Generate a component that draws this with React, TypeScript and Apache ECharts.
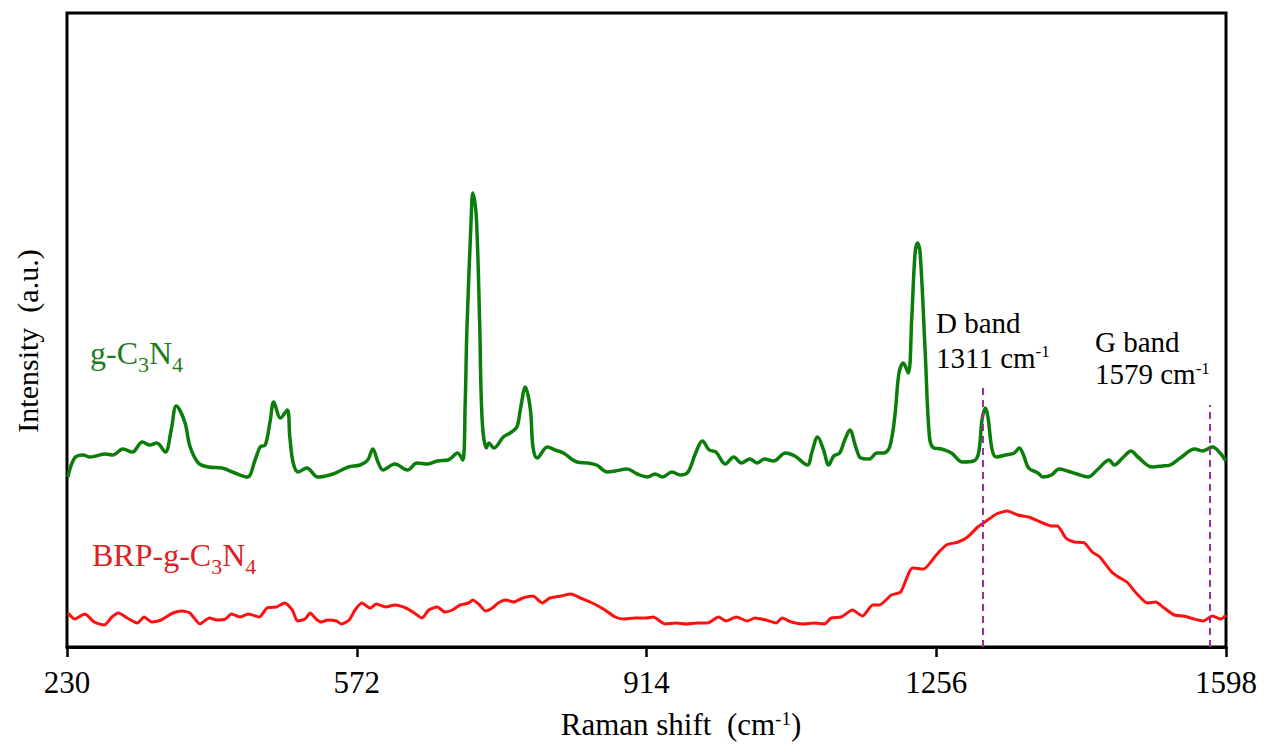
import React, { useEffect, useRef } from "react";
import * as echarts from "echarts";

const xTicks = [230, 572, 914, 1256, 1598];

// g-C3N4 spectrum: [Raman shift (cm-1), intensity (a.u.)]
const gC3N4: [number, number][] = [
  [231, 170], [239, 189], [249, 192], [257, 190], [264, 191], [275, 193], [284, 192], [296, 198],
  [307, 195], [319, 205], [328, 202], [336, 204], [346, 195], [353, 217], [359, 241], [369, 225],
  [375, 201], [385, 184], [397, 180], [413, 179], [428, 174], [443, 170], [452, 187], [458, 200],
  [464, 202], [470, 227], [474, 245], [482, 229], [490, 237], [493, 210], [497, 184], [503, 175],
  [513, 179], [526, 170], [544, 173], [562, 180], [576, 182], [585, 187], [591, 198], [597, 185],
  [603, 177], [617, 183], [632, 177], [643, 184], [656, 183], [667, 186], [680, 187], [691, 194],
  [697, 187], [700, 244], [702, 317], [707, 427], [709, 454], [713, 432], [717, 327], [720, 227],
  [725, 199], [728, 204], [734, 199], [745, 210], [753, 214], [761, 220], [765, 237], [771, 260],
  [777, 237], [780, 200], [785, 189], [797, 200], [806, 197], [816, 194], [832, 185], [845, 184],
  [855, 182], [868, 175], [877, 176], [891, 178], [903, 173], [915, 170], [924, 173], [933, 170],
  [944, 175], [954, 172], [963, 175], [972, 194], [980, 206], [988, 197], [996, 195], [1007, 183],
  [1017, 190], [1026, 184], [1036, 188], [1045, 184], [1053, 188], [1064, 186], [1078, 194], [1089, 191],
  [1104, 182], [1109, 194], [1116, 210], [1123, 197], [1129, 182], [1135, 191], [1142, 194], [1148, 207],
  [1154, 217], [1161, 200], [1167, 189], [1177, 188], [1186, 194], [1194, 194], [1201, 200], [1207, 230],
  [1212, 274], [1217, 284], [1223, 274], [1227, 327], [1231, 394], [1234, 404], [1237, 394], [1243, 294],
  [1248, 210], [1253, 199], [1262, 198], [1274, 194], [1287, 185], [1300, 186], [1306, 194], [1310, 227],
  [1314, 239], [1317, 230], [1322, 197], [1327, 190], [1338, 192], [1348, 194], [1354, 199], [1359, 192],
  [1365, 179], [1376, 174], [1382, 170], [1392, 172], [1401, 178], [1411, 176], [1422, 173], [1435, 170],
  [1447, 178], [1460, 187], [1466, 182], [1477, 190], [1486, 196], [1494, 190], [1511, 180], [1523, 181],
  [1532, 182], [1544, 189], [1561, 198], [1570, 196], [1582, 200], [1591, 194], [1598, 186],
];

// BRP-g-C3N4 spectrum
const brpC3N4: [number, number][] = [
  [231, 34], [239, 28], [251, 33], [262, 25], [274, 22], [283, 30], [291, 34], [301, 29],
  [313, 24], [321, 30], [330, 25], [341, 27], [355, 34], [366, 36], [375, 34], [387, 23],
  [398, 29], [407, 27], [417, 28], [424, 33], [434, 30], [444, 33], [457, 30], [466, 39],
  [477, 40], [487, 44], [496, 37], [502, 26], [511, 28], [517, 34], [524, 28], [530, 25],
  [538, 27], [548, 26], [554, 23], [563, 27], [570, 37], [578, 44], [588, 39], [595, 43],
  [606, 40], [617, 42], [630, 39], [640, 34], [649, 29], [657, 37], [667, 40], [676, 35],
  [685, 37], [694, 42], [704, 44], [709, 47], [717, 42], [724, 36], [732, 39], [739, 44],
  [748, 47], [757, 45], [768, 49], [780, 51], [791, 44], [800, 49], [813, 51], [825, 53],
  [836, 49], [850, 44], [863, 38], [877, 30], [887, 28], [900, 29], [914, 29], [922, 30],
  [936, 23], [949, 24], [961, 23], [974, 24], [986, 24], [999, 30], [1008, 26], [1020, 30],
  [1033, 26], [1042, 29], [1055, 27], [1067, 24], [1074, 29], [1085, 25], [1099, 23], [1112, 24],
  [1124, 23], [1132, 29], [1144, 30], [1157, 37], [1169, 31], [1181, 42], [1189, 42], [1203, 52],
  [1214, 55], [1228, 79], [1241, 78], [1257, 93], [1268, 102], [1282, 105], [1293, 110], [1305, 120],
  [1315, 126], [1327, 133], [1340, 136], [1352, 132], [1365, 130], [1379, 125], [1392, 121], [1399, 121],
  [1409, 109], [1419, 105], [1431, 104], [1440, 95], [1449, 90], [1463, 75], [1471, 70], [1481, 65],
  [1492, 54], [1505, 44], [1515, 45], [1525, 39], [1537, 32], [1548, 31], [1560, 28], [1571, 26],
  [1582, 31], [1592, 28], [1598, 32],
];

const bandShifts = [1311, 1579];
const bandLineTops = [260, 242];
const bandNames = ["D band", "G band"];

const SERIF = "'Liberation Serif', 'Times New Roman', serif";
const GREEN_LINE = "#0b7d0b";
const GREEN_TEXT = "#1e7b1e";
const RED_LINE = "#ff1010";
const RED_TEXT = "#e02020";
const PURPLE = "#9b309b";

export default function App() {
  const ref = useRef<HTMLDivElement>(null);

  useEffect(() => {
    const chart = echarts.init(ref.current!, null, { renderer: "svg" });

    // superscript style set
    const supRich = (color: string, size: number) => ({
      n: { fontSize: size, fontFamily: SERIF, fill: color, color, lineHeight: size },
      s: {
        fontSize: Math.round(size * 0.6),
        fontFamily: SERIF,
        fill: color,
        color,
        lineHeight: Math.round(size * 0.6),
        verticalAlign: "top",
      },
    });
    // subscript style set
    const subRich = (color: string, size: number) => ({
      n: { fontSize: size, fontFamily: SERIF, fill: color, color, lineHeight: Math.round(size * 1.4) },
      b: {
        fontSize: Math.round(size * 0.68),
        fontFamily: SERIF,
        fill: color,
        color,
        lineHeight: Math.round(size * 0.68),
        verticalAlign: "bottom",
      },
    });

    const annX = [936, 1095];
    const annY = [323, 342];
    const annGap = [34.5, 32];

    const graphic: any[] = [
      {
        type: "text",
        x: 27,
        y: 341,
        rotation: Math.PI / 2,
        style: { text: "Intensity  (a.u.)", font: `30px ${SERIF}`, fill: "#000", align: "center", verticalAlign: "middle" },
      },
      {
        type: "text",
        x: 681,
        y: 724,
        style: {
          text: "{n|Raman shift  (cm}{s|-1}{n|)}",
          rich: supRich("#000", 31),
          align: "center",
          verticalAlign: "middle",
        },
      },
      {
        type: "text",
        x: 90,
        y: 353,
        style: {
          text: "{n|g-C}{b|3}{n|N}{b|4}",
          rich: subRich(GREEN_TEXT, 32),
          fill: GREEN_TEXT,
          align: "left",
          verticalAlign: "middle",
        },
      },
      {
        type: "text",
        x: 92,
        y: 555,
        style: {
          text: "{n|BRP-g-C}{b|3}{n|N}{b|4}",
          rich: subRich(RED_TEXT, 32),
          fill: RED_TEXT,
          align: "left",
          verticalAlign: "middle",
        },
      },
    ];
    bandShifts.forEach((b, i) => {
      graphic.push({
        type: "text",
        x: annX[i],
        y: annY[i],
        style: { text: bandNames[i], font: `29px ${SERIF}`, fill: "#000", align: "left", verticalAlign: "middle" },
      });
      graphic.push({
        type: "text",
        x: annX[i],
        y: annY[i] + annGap[i],
        style: {
          text: `{n|${b} cm}{s|-1}`,
          rich: supRich("#000", 29),
          align: "left",
          verticalAlign: "middle",
        },
      });
    });

    chart.setOption({
      animation: false,
      backgroundColor: "#fff",
      grid: {
        left: 67,
        right: 40,
        top: 13,
        bottom: 100,
        show: true,
        borderColor: "#000",
        borderWidth: 3,
        backgroundColor: "transparent",
      },
      xAxis: {
        type: "value",
        min: 230,
        max: 1598,
        axisLine: { show: true, lineStyle: { color: "#000", width: 3 } },
        axisTick: { show: true, customValues: xTicks, length: 10, inside: false, lineStyle: { color: "#000", width: 2.5 } },
        axisLabel: {
          show: true,
          customValues: xTicks,
          formatter: (v: number) => String(v),
          fontFamily: SERIF,
          fontSize: 31,
          color: "#000",
          margin: 20,
          showMinLabel: true,
          showMaxLabel: true,
        },
        splitLine: { show: false },
      },
      yAxis: {
        type: "value",
        min: 0,
        max: 634,
        axisLine: { show: false },
        axisTick: { show: false },
        axisLabel: { show: false },
        splitLine: { show: false },
      },
      series: [
        {
          name: "BRP-g-C3N4",
          type: "line",
          data: brpC3N4,
          showSymbol: false,
          smooth: 0.2,
          lineStyle: { color: RED_LINE, width: 3 },
          z: 2,
        },
        {
          name: "g-C3N4",
          type: "line",
          data: gC3N4,
          showSymbol: false,
          smooth: 0.35,
          lineStyle: { color: GREEN_LINE, width: 3.5 },
          z: 3,
          markLine: {
            silent: true,
            symbol: "none",
            label: { show: false },
            lineStyle: { color: PURPLE, type: [7, 5], width: 2 },
            data: bandShifts.map((b, i) => [{ coord: [b, 0] }, { coord: [b, bandLineTops[i]] }]),
          },
        },
      ],
      graphic,
    });

    return () => chart.dispose();
  }, []);

  return <div ref={ref} style={{ position: "fixed", left: 0, top: 0, width: 1266, height: 747 }} />;
}
